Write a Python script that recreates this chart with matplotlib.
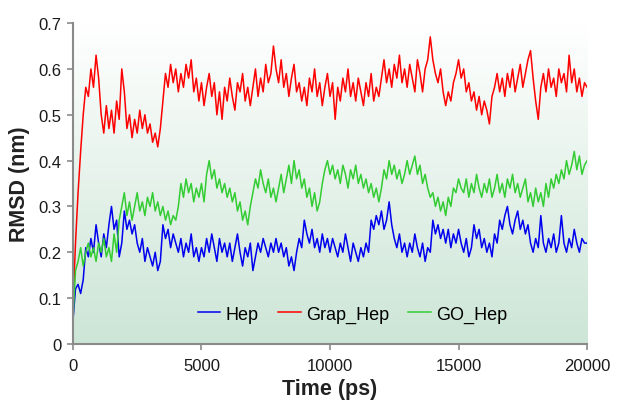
import matplotlib
matplotlib.use("Agg")
import matplotlib.pyplot as plt
import numpy as np

plt.rcParams["font.family"] = ["Liberation Sans", "DejaVu Sans"]

# RMSD traces, one value every 100 ps
time_ps = np.arange(0, 20001, 100)

hep = [
    0.05, 0.12, 0.13, 0.11, 0.14, 0.21, 0.19, 0.23, 0.20, 0.26,
    0.22, 0.19, 0.24, 0.21, 0.26, 0.30, 0.25, 0.27, 0.19, 0.22,
    0.29, 0.25, 0.27, 0.24, 0.26, 0.22, 0.20, 0.23, 0.18, 0.21,
    0.19, 0.17, 0.20, 0.16, 0.18, 0.26, 0.23, 0.25, 0.21, 0.24,
    0.22, 0.20, 0.23, 0.19, 0.22, 0.20, 0.24, 0.19, 0.21, 0.18,
    0.21, 0.19, 0.23, 0.20, 0.24, 0.21, 0.18, 0.23, 0.20, 0.22,
    0.19, 0.22, 0.18, 0.21, 0.24, 0.20, 0.17, 0.21, 0.19, 0.22,
    0.16, 0.19, 0.22, 0.20, 0.23, 0.21, 0.19, 0.22, 0.20, 0.23,
    0.20, 0.22, 0.19, 0.21, 0.17, 0.19, 0.16, 0.20, 0.23, 0.21,
    0.27, 0.24, 0.22, 0.25, 0.21, 0.23, 0.20, 0.24, 0.21, 0.23,
    0.20, 0.23, 0.21, 0.19, 0.22, 0.20, 0.24, 0.21, 0.18, 0.22,
    0.20, 0.18, 0.21, 0.19, 0.22, 0.20, 0.27, 0.25, 0.28, 0.26,
    0.29, 0.25, 0.27, 0.31, 0.26, 0.23, 0.21, 0.24, 0.20, 0.22,
    0.19, 0.22, 0.20, 0.24, 0.21, 0.19, 0.22, 0.18, 0.21, 0.20,
    0.27, 0.24, 0.26, 0.23, 0.25, 0.22, 0.25, 0.21, 0.24, 0.22,
    0.25, 0.22, 0.20, 0.23, 0.19, 0.21, 0.26, 0.23, 0.25, 0.21,
    0.23, 0.20, 0.22, 0.19, 0.24, 0.22, 0.27, 0.25, 0.28, 0.30,
    0.26, 0.24, 0.27, 0.29, 0.25, 0.27, 0.24, 0.26, 0.22, 0.20,
    0.23, 0.21, 0.28, 0.22, 0.20, 0.23, 0.21, 0.24, 0.20, 0.22,
    0.28, 0.22, 0.20, 0.23, 0.21, 0.25, 0.22, 0.20, 0.23, 0.22,
    0.22,
]

grap_hep = [
    0.08, 0.22, 0.33, 0.42, 0.50, 0.56, 0.54, 0.60, 0.56, 0.63,
    0.58, 0.50, 0.46, 0.52, 0.47, 0.51, 0.46, 0.53, 0.49, 0.60,
    0.55, 0.47, 0.50, 0.45, 0.49, 0.46, 0.51, 0.47, 0.50, 0.46,
    0.48, 0.44, 0.46, 0.43, 0.47, 0.53, 0.59, 0.56, 0.61, 0.57,
    0.60, 0.55, 0.59, 0.56, 0.61, 0.58, 0.62, 0.55, 0.58, 0.53,
    0.57, 0.52, 0.56, 0.59, 0.54, 0.57, 0.50, 0.55, 0.49, 0.56,
    0.53, 0.58, 0.54, 0.51, 0.57, 0.55, 0.59, 0.53, 0.56, 0.52,
    0.56, 0.60, 0.54, 0.58, 0.55, 0.61, 0.57, 0.59, 0.65, 0.60,
    0.57, 0.62, 0.56, 0.59, 0.54, 0.58, 0.61, 0.55, 0.57, 0.53,
    0.56, 0.52, 0.58, 0.55, 0.60, 0.54, 0.57, 0.52, 0.56, 0.59,
    0.54, 0.57, 0.49, 0.56, 0.53, 0.58, 0.55, 0.60, 0.54, 0.57,
    0.53, 0.58, 0.55, 0.52, 0.57, 0.54, 0.59, 0.53, 0.56, 0.54,
    0.58, 0.62, 0.57, 0.60, 0.56, 0.61, 0.58, 0.63, 0.57, 0.60,
    0.56, 0.61, 0.58, 0.55, 0.62, 0.59, 0.55, 0.60, 0.62, 0.67,
    0.62, 0.59, 0.57, 0.60, 0.55, 0.52, 0.55, 0.53, 0.57, 0.59,
    0.62, 0.58, 0.60, 0.55, 0.57, 0.53, 0.55, 0.51, 0.54, 0.50,
    0.53, 0.51, 0.48, 0.54, 0.56, 0.59, 0.55, 0.58, 0.54, 0.59,
    0.56, 0.60, 0.55, 0.58, 0.61, 0.56, 0.59, 0.62, 0.64, 0.58,
    0.53, 0.49, 0.56, 0.59, 0.55, 0.60, 0.56, 0.58, 0.54, 0.60,
    0.57, 0.59, 0.55, 0.63, 0.57, 0.60, 0.55, 0.58, 0.54, 0.57,
    0.56,
]

go_hep = [
    0.05, 0.16, 0.18, 0.21, 0.17, 0.20, 0.22, 0.19, 0.21, 0.18,
    0.22, 0.20, 0.23, 0.19, 0.21, 0.18, 0.24, 0.20, 0.27, 0.30,
    0.33, 0.28, 0.31, 0.27, 0.30, 0.33, 0.29, 0.31, 0.28, 0.32,
    0.30, 0.33, 0.29, 0.31, 0.28, 0.30, 0.27, 0.29, 0.26, 0.28,
    0.27, 0.30, 0.35, 0.32, 0.36, 0.33, 0.35, 0.31, 0.34, 0.32,
    0.35, 0.31, 0.37, 0.40, 0.36, 0.38, 0.34, 0.36, 0.33, 0.35,
    0.32, 0.34, 0.31, 0.33, 0.29, 0.31, 0.27, 0.29, 0.26, 0.30,
    0.33, 0.36, 0.34, 0.38, 0.35, 0.33, 0.36, 0.32, 0.34, 0.31,
    0.34, 0.37, 0.33, 0.36, 0.39, 0.35, 0.40, 0.36, 0.38, 0.34,
    0.36, 0.32, 0.34, 0.30, 0.33, 0.29, 0.31, 0.35, 0.38, 0.40,
    0.37, 0.39, 0.36, 0.38, 0.35, 0.39, 0.37, 0.34, 0.38, 0.36,
    0.39, 0.35, 0.37, 0.34, 0.36, 0.33, 0.35, 0.32, 0.34, 0.31,
    0.34, 0.38, 0.36, 0.40, 0.37, 0.39, 0.36, 0.38, 0.35, 0.37,
    0.40, 0.37, 0.39, 0.41, 0.37, 0.39, 0.35, 0.37, 0.34, 0.32,
    0.33, 0.30, 0.32, 0.29, 0.31, 0.28, 0.32, 0.30, 0.34, 0.33,
    0.36, 0.34, 0.33, 0.36, 0.32, 0.35, 0.33, 0.37, 0.34, 0.32,
    0.35, 0.33, 0.36, 0.32, 0.34, 0.37, 0.33, 0.35, 0.32, 0.36,
    0.34, 0.37, 0.33, 0.35, 0.32, 0.34, 0.36, 0.31, 0.33, 0.30,
    0.34, 0.31, 0.33, 0.30, 0.35, 0.32, 0.36, 0.34, 0.37, 0.35,
    0.38, 0.36, 0.40, 0.37, 0.39, 0.42, 0.38, 0.41, 0.37, 0.39,
    0.40,
]

series = [("Hep", hep, "#0000ee"), ("Grap_Hep", grap_hep, "#ff0000"), ("GO_Hep", go_hep, "#33cc33")]

fig = plt.figure(figsize=(6.18, 4.02), dpi=100)
ax = fig.add_axes([0.118, 0.142, 0.832, 0.798])

# white-to-pale-green vertical gradient behind the traces
grad = np.linspace(0, 1, 256)[:, None]
top = np.array([1.0, 1.0, 1.0])
bottom = np.array([0.80, 0.90, 0.84])
img = top + (bottom - top) * grad
ax.imshow(img[:, None, :].repeat(2, axis=1), extent=(0, 1, 0, 1), transform=ax.transAxes,
          aspect="auto", zorder=0)

for name, vals, col in series:
    ax.plot(time_ps, vals, color=col, lw=1.1, label=name, zorder=2)

ax.set_xlim(0, 20000)
ax.set_ylim(0, 0.7)
ax.set_xticks([0, 5000, 10000, 15000, 20000])
ax.set_yticks(np.arange(0, 0.71, 0.1))
ax.set_yticklabels(["0", "0.1", "0.2", "0.3", "0.4", "0.5", "0.6", "0.7"])
for s in ["top", "right"]:
    ax.spines[s].set_visible(False)
for s in ["left", "bottom"]:
    ax.spines[s].set_color("#8a8a8a")
    ax.spines[s].set_linewidth(1.5)
ax.tick_params(colors="#8a8a8a", labelcolor="#1a1a1a", labelsize=12, length=4, width=1.2, pad=4)
ax.tick_params(axis="x", pad=6)
ax.set_xlabel("Time (ps)", fontsize=15.5, fontweight="bold", color="#222222", labelpad=4)
ax.set_ylabel("RMSD (nm)", fontsize=15.5, fontweight="bold", color="#222222", labelpad=6)

ax.legend(loc="lower center", bbox_to_anchor=(0.544, 0.015), ncol=3, frameon=False,
          fontsize=13, handlelength=1.27, handletextpad=0.3, columnspacing=1.05)

fig.savefig("out.png", dpi=100)
